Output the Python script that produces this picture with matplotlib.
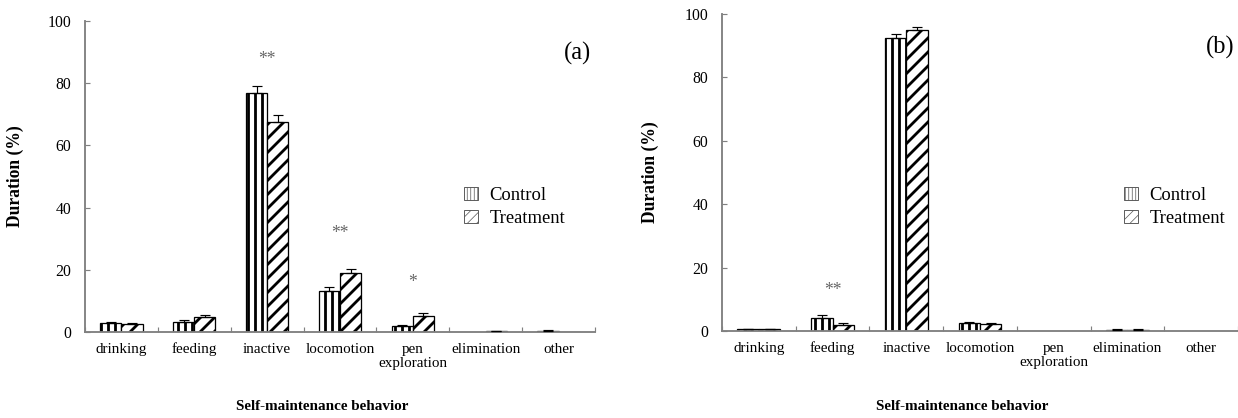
import matplotlib
matplotlib.use("Agg")
import matplotlib.pyplot as plt
from matplotlib.patches import Patch
import numpy as np

plt.rcParams['font.family'] = ['Liberation Serif', 'DejaVu Serif']
plt.rcParams['hatch.linewidth'] = 2.4

categories = ["drinking", "feeding", "inactive", "locomotion", "pen\nexploration", "elimination", "other"]

# Panel (a)
a_control = [3.0, 3.3, 76.9, 13.1, 1.9, 0.0, 0.4]
a_control_err = [0.3, 0.6, 2.3, 1.5, 0.5, 0.0, 0.1]
a_treatment = [2.7, 4.7, 67.5, 18.9, 5.1, 0.3, 0.1]
a_treatment_err = [0.3, 0.8, 2.4, 1.5, 0.9, 0.1, 0.0]
a_stars = {2: ("**", 87.5), 3: ("**", 31.8), 4: ("*", 16.0)}

# Panel (b)
b_control = [0.5, 4.0, 92.3, 2.4, 0.0, 0.4, 0.0]
b_control_err = [0.1, 1.0, 1.3, 0.4, 0.0, 0.1, 0.0]
b_treatment = [0.5, 1.9, 95.0, 2.1, 0.0, 0.4, 0.0]
b_treatment_err = [0.1, 0.5, 0.8, 0.3, 0.0, 0.1, 0.0]
b_stars = {1: ("**", 12.9)}

yticks = [0, 20, 40, 60, 80, 100]

DPI = 84
W, H = 1238, 418
fig = plt.figure(figsize=(14.7381, 4.9762), dpi=DPI)

GRAY = "#808080"


def panel(rect, ctrl, ctrl_err, trt, trt_err, stars, tag, tag_xy, leg_xy, ylab_off):
    l, t, r, b = rect
    ax = fig.add_axes([l / W, 1 - b / H, (r - l) / W, (b - t) / H])
    x = np.arange(len(categories))
    w = 0.29
    for off, vals, errs, hatch in ((-w / 2, ctrl, ctrl_err, "||"), (w / 2, trt, trt_err, "//")):
        vals = np.asarray(vals, float)
        errs = np.asarray(errs, float)
        keep = vals > 0
        ax.bar(x[keep] + off, vals[keep], w, color="white", edgecolor="black", hatch=hatch,
               linewidth=1.1, zorder=2)
        ke = keep & (errs > 0)
        ax.errorbar(x[ke] + off, vals[ke], yerr=[np.zeros(ke.sum()), errs[ke]], fmt="none",
                    ecolor="black", elinewidth=1.0, capsize=4, capthick=1.0, zorder=3)
    for i, (s, yv) in stars.items():
        ax.text(i, yv, s, ha="center", va="center", fontsize=15, color="#666666")
    ax.set_xlim(-0.5, len(categories) - 0.5)
    ax.set_ylim(0, 100)
    ax.set_yticks(yticks)
    ax.set_xticks(x)
    ax.set_xticklabels(categories, fontsize=13, linespacing=1.1)
    ax.set_xticks(np.arange(len(categories) + 1) - 0.5, minor=True)
    ax.tick_params(axis="x", which="major", length=0, pad=9)
    ax.tick_params(axis="x", which="minor", direction="in", length=4, color=GRAY, width=1)
    ax.tick_params(axis="y", which="major", direction="in", length=4, color=GRAY,
                   width=1, labelsize=13.5, pad=12)
    for side in ("top", "right"):
        ax.spines[side].set_visible(False)
    for side in ("left", "bottom"):
        ax.spines[side].set_color(GRAY)
        ax.spines[side].set_linewidth(1.6)
    ax.set_ylabel("Duration (%)", fontsize=15, fontweight="bold")
    ax.yaxis.set_label_coords(-ylab_off / (r - l), 0.5)
    ax.set_xlabel("Self-maintenance behavior", fontsize=13, fontweight="bold")
    ax.xaxis.set_label_coords(0.465, -(400 - b) / (b - t))
    ax.text((tag_xy[0] - l) / (r - l), (b - tag_xy[1]) / (b - t), tag,
            transform=ax.transAxes, ha="center", va="center", fontsize=21)
    handles = [Patch(facecolor="white", edgecolor="#555555", hatch="||||", linewidth=0.8),
               Patch(facecolor="white", edgecolor="#555555", hatch="///", linewidth=0.8)]
    leg = fig.legend(handles, ["Control", "Treatment"], loc="upper left",
                     bbox_to_anchor=(leg_xy[0] / W, 1 - leg_xy[1] / H), frameon=False,
                     fontsize=16, handlelength=0.75, handleheight=0.7, handletextpad=0.6,
                     labelspacing=0.3, borderpad=0, borderaxespad=0)
    for p in leg.get_patches():
        if hasattr(p, "set_hatch_linewidth"):
            p.set_hatch_linewidth(0.6)
        else:
            p._hatch_linewidth = 0.6
    return ax


panel((85, 21, 595, 332), a_control, a_control_err, a_treatment, a_treatment_err,
      a_stars, "(a)", (577, 53), (464, 187), 61)
panel((722, 14, 1238, 331), b_control, b_control_err, b_treatment, b_treatment_err,
      b_stars, "(b)", (1220, 47), (1124, 187), 63)

fig.savefig("out.png", dpi=DPI)
